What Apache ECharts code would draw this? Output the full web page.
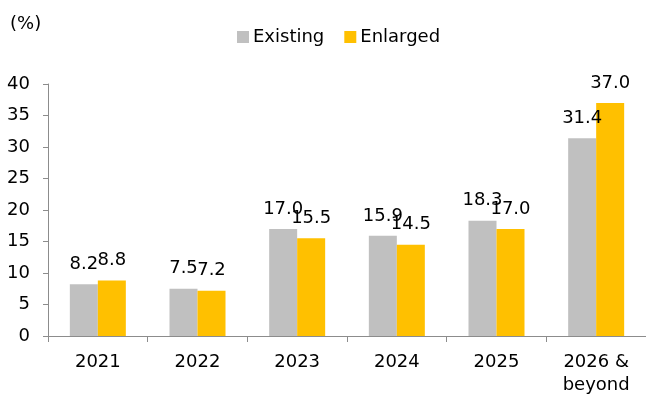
<!DOCTYPE html>
<html>
<head>
<meta charset="utf-8">
<script src="https://cdn.jsdelivr.net/npm/echarts@6/dist/echarts.min.js"></script>
<style>
html,body{margin:0;padding:0;background:#fff;}
#c{width:646px;height:398px;}
</style>
</head>
<body>
<div id="c"></div>
<script>
const categories = ['2021', '2022', '2023', '2024', '2025', '2026 &\nbeyond'];
const existing = [8.2, 7.5, 17.0, 15.9, 18.3, 31.4];
const enlarged = [8.8, 7.2, 15.5, 14.5, 17.0, 37.0];
const yTicks = { min: 0, max: 40, interval: 5 };

const FONT = 'DejaVu Sans';
const chart = echarts.init(document.getElementById('c'), null, { renderer: 'canvas' });
const lbl = {
  show: true, position: 'top', distance: 11,
  fontFamily: FONT, fontSize: 18, color: '#000',
  formatter: p => p.value.toFixed(1)
};
chart.setOption({
  animation: false,
  textStyle: { fontFamily: FONT },
  legend: {
    data: ['Existing', 'Enlarged'],
    left: 232, top: 23,
    itemWidth: 12, itemHeight: 12, itemGap: 20,
    icon: 'rect',
    textStyle: { fontFamily: FONT, fontSize: 18, color: '#000', padding: [0, 0, 0, -1] }
  },
  graphic: [{
    type: 'text', left: 10, top: 15,
    style: { text: '(%)', fontFamily: FONT, fontSize: 18, fill: '#000' }
  }],
  grid: { left: 48, right: -2, top: 84, bottom: 62, containLabel: false },
  xAxis: {
    type: 'category', data: categories,
    axisLine: { show: true, lineStyle: { color: '#8c8c8c', width: 1 } },
    axisTick: { show: true, length: 6, alignWithLabel: false, lineStyle: { color: '#8c8c8c' } },
    axisLabel: { margin: 15, fontFamily: FONT, fontSize: 18, color: '#000', lineHeight: 23, interval: 0 }
  },
  yAxis: {
    type: 'value', min: yTicks.min, max: yTicks.max, interval: yTicks.interval,
    splitLine: { show: false },
    axisLine: { show: true, lineStyle: { color: '#8c8c8c', width: 1 } },
    axisTick: { show: true, length: 5, lineStyle: { color: '#8c8c8c' } },
    axisLabel: { margin: 18, fontFamily: FONT, fontSize: 18, color: '#000' }
  },
  series: [
    { name: 'Existing', type: 'bar', data: existing, barWidth: 28, barGap: '0%',
      itemStyle: { color: '#c0c0c0' }, label: lbl },
    { name: 'Enlarged', type: 'bar', data: enlarged, barWidth: 28, barGap: '0%',
      itemStyle: { color: '#ffc000' }, label: lbl }
  ]
});
</script>
</body>
</html>
